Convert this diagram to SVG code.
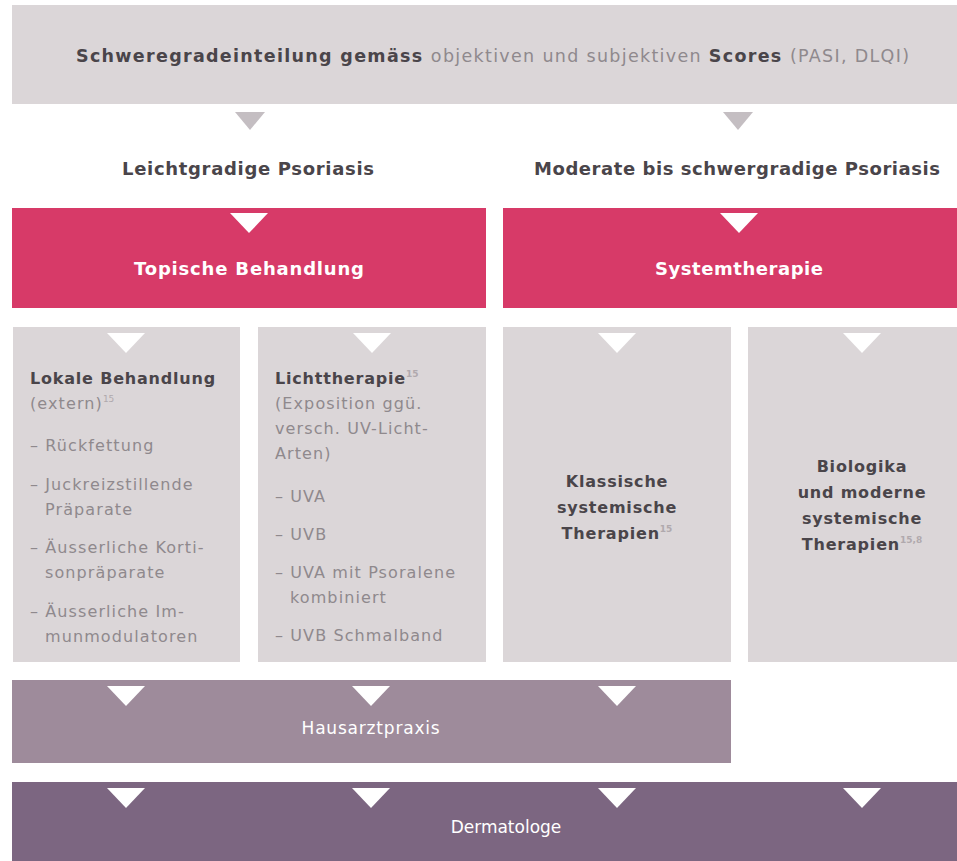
<svg xmlns="http://www.w3.org/2000/svg" xmlns:xlink="http://www.w3.org/1999/xlink" width="957" height="861" viewBox="0 0 957 861">
  <style>
    text { font-family: "DejaVu Sans", "Liberation Sans", sans-serif; }
    .bg { fill: #ffffff; }
    .box-grey { fill: #dbd6d8; }
    .box-red { fill: #d73a68; }
    .box-gp { fill: #9e8b9b; }
    .box-derm { fill: #7c6681; }
    .tri-grey { fill: #c4bec2; }
    .tri-white { fill: #ffffff; }
    .head { font-weight: bold; font-size: 16px; fill: #4a454a; letter-spacing: 0.8px; }
    .label { font-weight: bold; font-size: 18px; fill: #4a454a; }
    .body { font-size: 16px; fill: #8f898d; letter-spacing: 1.1px; }
    .title-b { font-weight: bold; fill: #4a454a; }
    .title-r { fill: #8f898d; }
    .sup { font-size: 9px; fill: #b0a9ad; letter-spacing: 0; }
    .white-b { font-weight: bold; font-size: 18px; fill: #ffffff; }
    .white-r { font-size: 17px; fill: #ffffff; }
  </style>
  <defs>
    <polygon id="arrow" points="-19,0 19,0 0,20"/>
    <polygon id="arrow-s" points="-15,0 15,0 0,18"/>
  </defs>

  <rect class="bg" x="0" y="0" width="957" height="861"/>

  <!-- severity assessment -->
  <g id="node-severity">
    <rect class="box-grey" x="12" y="5" width="945" height="99"/>
    <text x="76" y="62" font-size="17.5" textLength="833" lengthAdjust="spacing"><tspan class="title-b">Schweregradeinteilung gemäss </tspan><tspan class="title-r">objektiven und subjektiven </tspan><tspan class="title-b">Scores </tspan><tspan class="title-r">(PASI, DLQI)</tspan></text>
  </g>

  <!-- severity categories -->
  <g id="node-mild">
    <text class="label" x="248" y="175" text-anchor="middle" textLength="252" lengthAdjust="spacing">Leichtgradige Psoriasis</text>
  </g>
  <g id="node-moderate">
    <text class="label" x="737" y="175" text-anchor="middle" textLength="406" lengthAdjust="spacing">Moderate bis schwergradige Psoriasis</text>
  </g>

  <!-- treatment approach -->
  <g id="node-topical">
    <rect class="box-red" x="12" y="208" width="474" height="100"/>
    <text class="white-b" x="249" y="275" text-anchor="middle" textLength="230" lengthAdjust="spacing">Topische Behandlung</text>
  </g>
  <g id="node-systemic">
    <rect class="box-red" x="503" y="208" width="454" height="100"/>
    <text class="white-b" x="739" y="275" text-anchor="middle" textLength="168" lengthAdjust="spacing">Systemtherapie</text>
  </g>

  <!-- treatment options -->
  <g id="node-local">
    <rect class="box-grey" x="13" y="327" width="227" height="335"/>
    <text class="head" x="30" y="384">Lokale Behandlung</text>
    <text class="body" x="30" y="409">(extern)<tspan class="sup" dy="-7">15</tspan></text>
    <text class="body" x="30" y="451">– Rückfettung</text>
    <text class="body" x="30" y="490">– Juckreizstillende</text>
    <text class="body" x="45" y="515">Präparate</text>
    <text class="body" x="30" y="553">– Äusserliche Korti-</text>
    <text class="body" x="45" y="578">sonpräparate</text>
    <text class="body" x="30" y="617">– Äusserliche Im-</text>
    <text class="body" x="45" y="642">munmodulatoren</text>
  </g>
  <g id="node-light">
    <rect class="box-grey" x="258" y="327" width="228" height="335"/>
    <text class="head" x="275" y="384">Lichttherapie<tspan class="sup" dy="-7">15</tspan></text>
    <text class="body" x="275" y="409">(Exposition ggü.</text>
    <text class="body" x="275" y="434">versch. UV-Licht-</text>
    <text class="body" x="275" y="459">Arten)</text>
    <text class="body" x="275" y="502">– UVA</text>
    <text class="body" x="275" y="540">– UVB</text>
    <text class="body" x="275" y="578">– UVA mit Psoralene</text>
    <text class="body" x="290" y="603">kombiniert</text>
    <text class="body" x="275" y="641">– UVB Schmalband</text>
  </g>
  <g id="node-classic">
    <rect class="box-grey" x="503" y="327" width="228" height="335"/>
    <text class="head" x="617" y="487" text-anchor="middle">Klassische</text>
    <text class="head" x="617" y="513" text-anchor="middle">systemische</text>
    <text class="head" x="617" y="539" text-anchor="middle">Therapien<tspan class="sup" dy="-7">15</tspan></text>
  </g>
  <g id="node-biologics">
    <rect class="box-grey" x="748" y="327" width="209" height="335"/>
    <text class="head" x="862" y="472" text-anchor="middle">Biologika</text>
    <text class="head" x="862" y="498" text-anchor="middle">und moderne</text>
    <text class="head" x="862" y="524" text-anchor="middle">systemische</text>
    <text class="head" x="862" y="550" text-anchor="middle">Therapien<tspan class="sup" dy="-7">15,8</tspan></text>
  </g>

  <!-- care settings -->
  <g id="node-gp">
    <rect class="box-gp" x="12" y="680" width="719" height="83"/>
    <text class="white-r" x="371" y="734" text-anchor="middle" font-size="18" letter-spacing="0.8">Hausarztpraxis</text>
  </g>
  <g id="node-derm">
    <rect class="box-derm" x="12" y="782" width="945" height="79"/>
    <text class="white-r" x="506" y="833" text-anchor="middle">Dermatologe</text>
  </g>

  <!-- flow arrows -->
  <g id="connectors">
    <use xlink:href="#arrow-s" class="tri-grey" x="250" y="112"/>
    <use xlink:href="#arrow-s" class="tri-grey" x="738" y="112"/>

    <use xlink:href="#arrow" class="tri-white" x="249" y="213"/>
    <use xlink:href="#arrow" class="tri-white" x="739" y="213"/>

    <use xlink:href="#arrow" class="tri-white" x="126" y="333"/>
    <use xlink:href="#arrow" class="tri-white" x="372" y="333"/>
    <use xlink:href="#arrow" class="tri-white" x="617" y="333"/>
    <use xlink:href="#arrow" class="tri-white" x="862" y="333"/>

    <use xlink:href="#arrow" class="tri-white" x="126" y="686"/>
    <use xlink:href="#arrow" class="tri-white" x="371" y="686"/>
    <use xlink:href="#arrow" class="tri-white" x="617" y="686"/>

    <use xlink:href="#arrow" class="tri-white" x="126" y="788"/>
    <use xlink:href="#arrow" class="tri-white" x="371" y="788"/>
    <use xlink:href="#arrow" class="tri-white" x="617" y="788"/>
    <use xlink:href="#arrow" class="tri-white" x="862" y="788"/>
  </g>
</svg>
